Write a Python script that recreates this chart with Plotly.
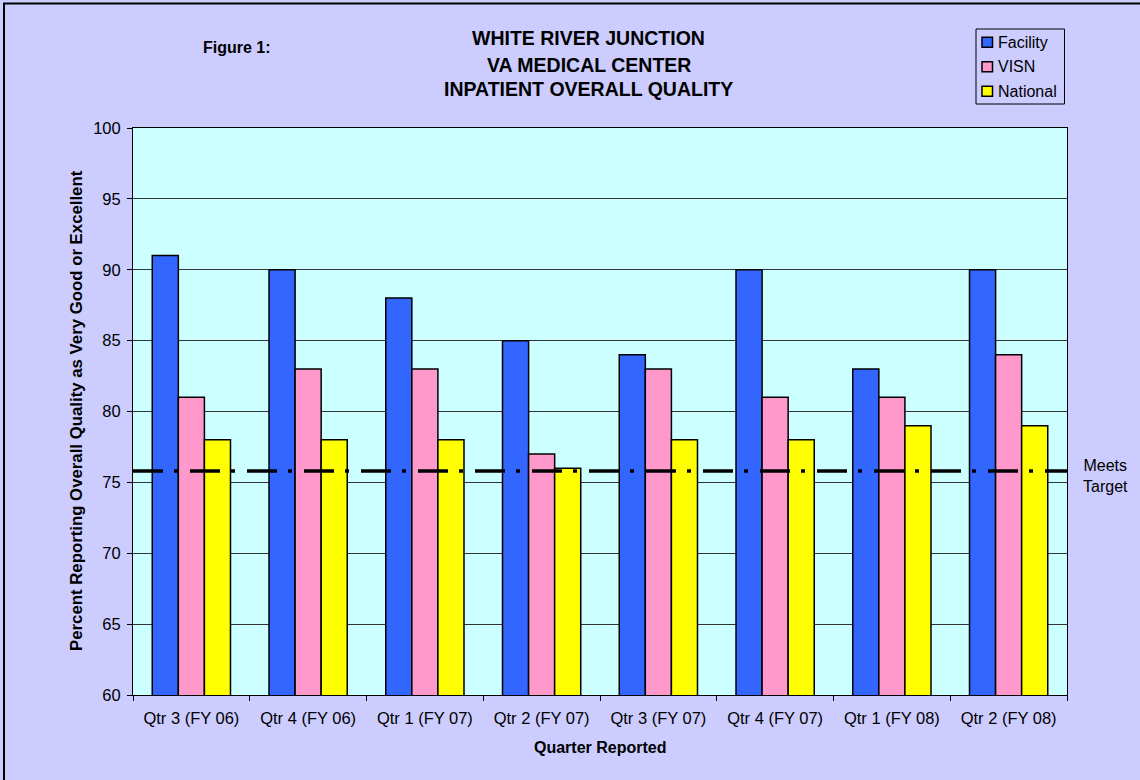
import plotly.graph_objects as go

categories = ["Qtr 3 (FY 06)", "Qtr 4 (FY 06)", "Qtr 1 (FY 07)", "Qtr 2 (FY 07)",
              "Qtr 3 (FY 07)", "Qtr 4 (FY 07)", "Qtr 1 (FY 08)", "Qtr 2 (FY 08)"]
facility = [91, 90, 88, 85, 84, 90, 83, 90]
visn = [81, 83, 83, 77, 83, 81, 81, 84]
national = [78, 78, 78, 76, 78, 78, 79, 79]
target = 75.8

series_names = ["Facility", "VISN", "National"]
series_colors = ["#3366FF", "#FF99CC", "#FFFF00"]

FONT = "Arial, 'Liberation Sans', sans-serif"

# plot area geometry in pixels (for paper-coordinate conversions)
L, R, T, B = 133, 1067, 128, 695
W, H = R - L, B - T


def px(x):
    return (x - L) / W


def py(y):
    return (B - y) / H


fig = go.Figure()
for name, vals, col in zip(series_names, [facility, visn, national], series_colors):
    fig.add_trace(go.Bar(x=categories, y=vals, name=name,
                         marker=dict(color=col, line=dict(color="#000000", width=1.5))))

fig.update_layout(
    width=1140, height=780,
    margin=dict(l=L, r=1140 - R, t=T, b=780 - B),
    paper_bgcolor="#CCCCFF", plot_bgcolor="#CCFFFF",
    barmode="group", bargap=0.33, bargroupgap=0,
    font=dict(family=FONT, color="#000000", size=16),
    showlegend=False,
    xaxis=dict(showgrid=False, ticks="outside", tickson="boundaries", ticklen=5,
               tickcolor="#000000", showline=True, linecolor="#000000", linewidth=1,
               mirror=True, tickfont=dict(size=16.5), ticklabelstandoff=8),
    yaxis=dict(range=[60, 100], dtick=5, showgrid=True, gridcolor="#333333", gridwidth=1,
               ticks="outside", ticklen=5, tickcolor="#000000", showline=True,
               linecolor="#000000", linewidth=1, mirror=True, tickfont=dict(size=16.5),
               zeroline=False, ticklabelstandoff=3),
)

# target line
fig.add_shape(type="line", xref="paper", yref="y", x0=0, x1=1, y0=target, y1=target,
              line=dict(color="#000000", width=3.5, dash="30px,11px,4px,12px"), layer="above")

# outer border
fig.add_shape(type="rect", xref="paper", yref="paper",
              x0=px(4), x1=2, y0=-1, y1=py(3.5),
              line=dict(color="#000000", width=2), fillcolor="rgba(0,0,0,0)", layer="above")

# legend box (manual, Excel style)
fig.add_shape(type="rect", xref="paper", yref="paper",
              x0=px(976), x1=px(1064.5), y0=py(104), y1=py(29),
              line=dict(color="#000000", width=1), fillcolor="#CCCCFF", layer="above")
ann = []
for i, (name, col) in enumerate(zip(series_names, series_colors)):
    cy = 42.3 + i * 24.5
    fig.add_shape(type="rect", xref="paper", yref="paper",
                  x0=px(982), x1=px(992.5), y0=py(cy + 5), y1=py(cy - 5),
                  line=dict(color="#000000", width=1.5), fillcolor=col, layer="above")
    ann.append(dict(text=name, xref="paper", yref="paper", x=px(996), y=py(cy),
                    xanchor="left", yanchor="middle", showarrow=False,
                    font=dict(size=16, family=FONT)))

titles = [("WHITE RIVER JUNCTION", 38), ("VA MEDICAL CENTER", 65), ("INPATIENT OVERALL QUALITY", 89)]
for t, y in titles:
    ann.append(dict(text="<b>" + t + "</b>", xref="paper", yref="paper",
                    x=px(588.5), y=py(y), xanchor="center", yanchor="middle",
                    showarrow=False, font=dict(size=19.5, family=FONT)))
ann.append(dict(text="<b>Figure 1:</b>", xref="paper", yref="paper",
                x=px(237), y=py(47), xanchor="center", yanchor="middle",
                showarrow=False, font=dict(size=16, family=FONT)))
ann.append(dict(text="Meets<br>Target", xref="paper", yref="paper",
                x=px(1105), y=py(476), xanchor="center", yanchor="middle",
                showarrow=False, font=dict(size=16, family=FONT)))
ann.append(dict(text="<b>Quarter Reported</b>", xref="paper", yref="paper",
                x=0.5, y=py(747), xanchor="center", yanchor="middle",
                showarrow=False, font=dict(size=16, family=FONT)))
ann.append(dict(text="<b>Percent Reporting Overall Quality as Very Good or Excellent</b>",
                xref="paper", yref="paper", textangle=-90,
                x=px(76), y=py(411), xanchor="center", yanchor="middle",
                showarrow=False, font=dict(size=16.8, family=FONT)))
fig.update_layout(annotations=ann)

fig.write_html("out.html")
